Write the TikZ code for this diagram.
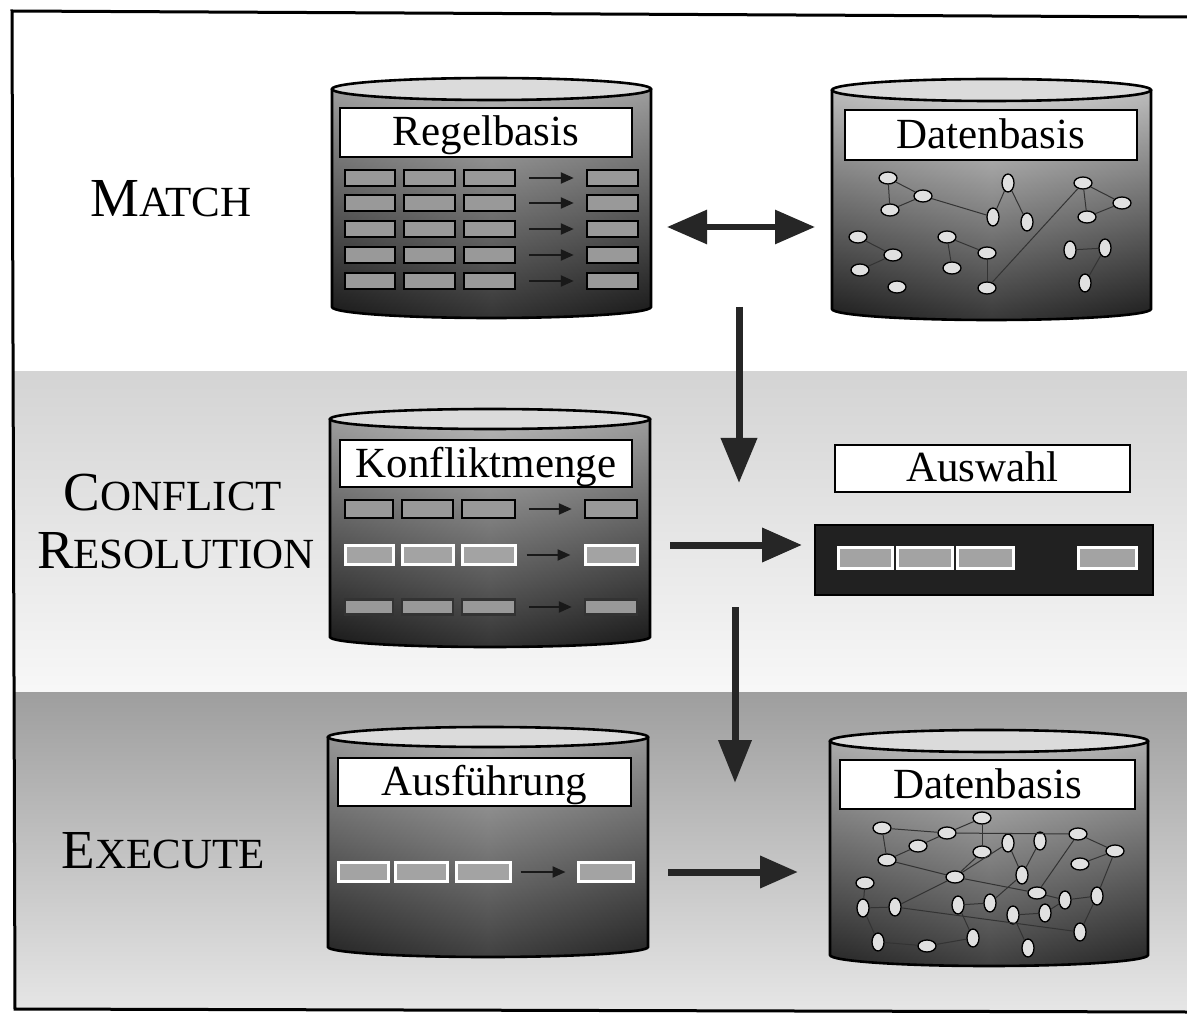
\documentclass[tikz,border=0pt]{standalone}
\usepackage{fontspec}
\setmainfont{Liberation Serif}
\usetikzlibrary{arrows.meta,shapes.geometric}

% small-caps look: large initial, smaller capitals
\newcommand{\StageCaps}[2]{{\fontsize{55}{60}\selectfont #1}{\fontsize{43}{50}\selectfont #2}}

% database drum: #1 x left, #2 x right, #3 y of top rim, #4 y of bottom rim,
% #5 rim half-height, #6 top colour, #7 middle colour, #8 bottom colour
\newcommand{\DrawDrum}[8]{%
  \pgfmathsetmacro\drumrx{(#2-#1)/2}%
  \pgfmathsetmacro\drumcx{(#1+#2)/2}%
  \shade[top color=#6, middle color=#7, bottom color=#8]
    (#1,#3) -- (#1,#4) arc[start angle=180, end angle=360, x radius=\drumrx pt, y radius=#5pt] -- (#2,#3) -- cycle;
  \shade[left color=black, right color=black, middle color=black!40, fill opacity=0.18]
    (#1,#3) -- (#1,#4) arc[start angle=180, end angle=360, x radius=\drumrx pt, y radius=#5pt] -- (#2,#3) -- cycle;
  \draw[drumline]
    (#1,#3) -- (#1,#4) arc[start angle=180, end angle=360, x radius=\drumrx pt, y radius=#5pt] -- (#2,#3);
  \draw[drumline, fill=black!14] (\drumcx,#3) ellipse [x radius=\drumrx pt, y radius=#5pt];
}

\tikzset{
  drumline/.style={draw=black, line width=2.6pt},
  labelbox/.style={draw=black, line width=1.4pt, fill=white, inner sep=0pt,
    font=\fontsize{43}{48}\selectfont, text height=27pt, text depth=0pt},
  stage/.style={inner sep=0pt, anchor=base},
  cell/.style={draw=black, line width=2.4pt, fill=black!40, inner sep=0pt, minimum height=16pt},
  hcell/.style={draw=white, line width=3pt, fill=black!36, inner sep=0pt, minimum height=19pt},
  rowarrow/.style={draw=black!90, line width=2.2pt, -{Triangle[length=13pt,width=11pt]},
    shorten <=13pt, shorten >=12pt},
  bigarrow/.style={draw=black!85, fill=black!85, line width=7pt},
  dbnode/.style={ellipse, draw=black, line width=1.3pt, fill=black!12, inner sep=0pt},
  dbh/.style={dbnode, minimum width=18pt, minimum height=12pt},
  dbv/.style={dbnode, minimum width=12pt, minimum height=18pt},
  dbedge/.style={draw=black!80, line width=1pt},
}

\begin{document}
\begin{tikzpicture}[x=1pt, y=-1pt]
\useasboundingbox (0,0) rectangle (1187,1016);
\fill[white] (0,0) rectangle (1187,1016);

% horizontal bands behind the three phases
\shade[top color=black!17, bottom color=black!3] (14,372) rectangle (1187,692);
\shade[top color=black!38, bottom color=black!10] (14,692) rectangle (1187,1009);

% outer frame
\draw[line width=3pt] (1187,17) -- (12,11) -- (15,1009) -- (1187,1012);

% phase names
\node[stage] (match) at (171,217) {\StageCaps{M}{ATCH}};
\node[stage] (conflict) at (173,510) {\StageCaps{C}{ONFLICT}};
\node[stage] (resolution) at (176,568) {\StageCaps{R}{ESOLUTION}};
\node[stage] (execute) at (163,868) {\StageCaps{E}{XECUTE}};

% ---------------- rule base ----------------
\DrawDrum{332}{651}{89}{307}{11}{black!25}{black!55}{black!88}
\node[labelbox, minimum width=292pt, minimum height=49pt] (regel) at (486,132.5) {Regelbasis};
\foreach \y [count=\i] in {178,203,229,255,281} {
  \node[cell, minimum width=50pt] (ra\i-1) at (370,\y) {};
  \node[cell, minimum width=51pt] (ra\i-2) at (429.5,\y) {};
  \node[cell, minimum width=51pt] (ra\i-3) at (489.5,\y) {};
  \node[cell, minimum width=51pt] (ra\i-5) at (612.5,\y) {};
  \draw[rowarrow] (ra\i-3) -- (ra\i-5);
}

% ---------------- data base (before) ----------------
\DrawDrum{832}{1151}{90}{309}{11}{black!10}{black!45}{black!86}
\node[labelbox, minimum width=292pt, minimum height=50pt] (daten) at (991,135) {Datenbasis};
\node[dbh] (a1) at (888,178) {};
\node[dbh] (a2) at (923,196) {};
\node[dbh] (a3) at (890,210) {};
\node[dbv] (a4) at (1008,183) {};
\node[dbv] (a5) at (993,217) {};
\node[dbv] (a6) at (1027,222) {};
\node[dbh] (a7) at (1083,183) {};
\node[dbh] (a8) at (1122,203) {};
\node[dbh] (a9) at (1087,217) {};
\node[dbh] (a10) at (858,237) {};
\node[dbh] (a11) at (893,255) {};
\node[dbh] (a12) at (860,270) {};
\node[dbh] (a13) at (947,237) {};
\node[dbh] (a14) at (987,253) {};
\node[dbh] (a15) at (952,268) {};
\node[dbh] (a16) at (897,287) {};
\node[dbh] (a17) at (987,288) {};
\node[dbv] (a18) at (1070,250) {};
\node[dbv] (a19) at (1105,248) {};
\node[dbv] (a20) at (1085,283) {};
\foreach \p/\q in {a1/a3,a1/a2,a3/a2,a2/a5,a5/a4,a4/a6,a7/a8,a7/a9,a9/a8,a7/a17,
                   a10/a11,a11/a12,a13/a14,a13/a15,a14/a17,a18/a19,a19/a20}
  \draw[dbedge] (\p) -- (\q);

% ---------------- conflict set ----------------
\DrawDrum{330}{650}{419}{637}{10}{black!25}{black!58}{black!88}
\node[labelbox, minimum width=292pt, minimum height=47pt] (konflikt) at (486,463.5) {Konfliktmenge};
\node[cell, minimum width=48pt, minimum height=18pt] (kb1-1) at (369,509) {};
\node[cell, minimum width=51pt, minimum height=18pt] (kb1-2) at (427.5,509) {};
\node[cell, minimum width=53pt, minimum height=18pt] (kb1-3) at (488.5,509) {};
\node[cell, minimum width=52pt, minimum height=18pt] (kb1-5) at (611,509) {};
\draw[rowarrow] (kb1-3) -- (kb1-5);
\node[hcell, minimum width=48pt] (kb2-1) at (369,555) {};
\node[hcell, minimum width=51pt] (kb2-2) at (427.5,555) {};
\node[hcell, minimum width=53pt] (kb2-3) at (488.5,555) {};
\node[hcell, minimum width=52pt] (kb2-5) at (611,555) {};
\draw[rowarrow, shorten <=10pt, shorten >=13pt] (kb2-3) -- (kb2-5);
\node[cell, draw=black!80, minimum width=48pt, minimum height=15pt] (kb3-1) at (369,607) {};
\node[cell, draw=black!80, minimum width=51pt, minimum height=15pt] (kb3-2) at (427.5,607) {};
\node[cell, draw=black!80, minimum width=53pt, minimum height=15pt] (kb3-3) at (488.5,607) {};
\node[cell, draw=black!80, minimum width=52pt, minimum height=15pt] (kb3-5) at (611,607) {};
\draw[rowarrow] (kb3-3) -- (kb3-5);

% ---------------- selection ----------------
\node[labelbox, minimum width=295pt, minimum height=47pt] (auswahl) at (982.5,468.5) {Auswahl};
\node[draw=black, line width=1.5pt, fill=black!87, inner sep=0pt,
      minimum width=338pt, minimum height=70pt] (selbar) at (984,560) {};
\node[hcell, minimum width=54pt, minimum height=21pt] (s1) at (865,557.5) {};
\node[hcell, minimum width=55pt, minimum height=21pt] (s2) at (924.5,557.5) {};
\node[hcell, minimum width=56pt, minimum height=21pt] (s3) at (985,557.5) {};
\node[hcell, minimum width=58pt, minimum height=21pt] (s5) at (1107,557.5) {};

% ---------------- execution ----------------
\DrawDrum{328}{648}{737}{947}{10}{black!28}{black!55}{black!82}
\node[labelbox, minimum width=293pt, minimum height=48pt] (ausf) at (484.5,782) {Ausführung};
\node[hcell, minimum width=50pt] (ex1) at (363,872) {};
\node[hcell, minimum width=52pt] (ex2) at (421,872) {};
\node[hcell, minimum width=54pt] (ex3) at (483,872) {};
\node[hcell, minimum width=55pt] (ex5) at (605.5,872) {};
\draw[rowarrow, shorten <=9pt, shorten >=11pt] (ex3) -- (ex5);

% ---------------- data base (after) ----------------
\DrawDrum{830}{1148}{741}{955}{11}{black!18}{black!50}{black!82}
\node[labelbox, minimum width=295pt, minimum height=49pt] (daten2) at (987.5,784.5) {Datenbasis};
\node[dbh] (b1) at (882,828) {};
\node[dbh] (b2) at (947,833) {};
\node[dbh] (b3) at (982,818) {};
\node[dbh] (b4) at (918,846) {};
\node[dbh] (b5) at (982,852) {};
\node[dbv] (b6) at (1008,843) {};
\node[dbv] (b7) at (1040,841) {};
\node[dbh] (b8) at (1078,834) {};
\node[dbh] (b9) at (1115,851) {};
\node[dbh] (b10) at (887,860) {};
\node[dbh] (b11) at (1080,864) {};
\node[dbv] (b12) at (1022,875) {};
\node[dbh] (b13) at (955,877) {};
\node[dbh] (b14) at (865,883) {};
\node[dbh] (b15) at (1037,893) {};
\node[dbv] (b16) at (1065,900) {};
\node[dbv] (b17) at (1097,896) {};
\node[dbv] (b18) at (863,908) {};
\node[dbv] (b19) at (895,907) {};
\node[dbv] (b20) at (958,905) {};
\node[dbv] (b21) at (990,903) {};
\node[dbv] (b22) at (1013,915) {};
\node[dbv] (b23) at (1045,913) {};
\node[dbv] (b24) at (878,942) {};
\node[dbh] (b25) at (927,946) {};
\node[dbv] (b26) at (973,938) {};
\node[dbv] (b27) at (1028,948) {};
\node[dbv] (b28) at (1080,932) {};
\foreach \p/\q in {b1/b2,b2/b3,b2/b8,b3/b5,b1/b10,b10/b4,b4/b2,b10/b13,b5/b13,b13/b6,
                   b6/b12,b7/b12,b8/b9,b9/b11,b8/b15,b9/b17,b14/b18,b18/b19,b19/b13,
                   b13/b15,b20/b21,b20/b26,b15/b16,b16/b17,b22/b23,b22/b27,b23/b16,
                   b24/b25,b25/b26,b18/b24,b19/b28,b28/b17,b21/b12}
  \draw[dbedge] (\p) -- (\q);

% ---------------- flow arrows ----------------
\coordinate (m1) at (667,227);
\coordinate (m2) at (815,227);
\draw[bigarrow, line width=6pt, {Triangle[length=40pt,width=33pt]}-{Triangle[length=40pt,width=33pt]}] (m1) -- (m2);
\coordinate (d1a) at (739,307);
\coordinate (d1b) at (739,483);
\draw[bigarrow, -{Triangle[length=45pt,width=35pt]}] (d1a) -- (d1b);
\coordinate (r2a) at (670,545);
\coordinate (r2b) at (802,545);
\draw[bigarrow, -{Triangle[length=40pt,width=33pt]}] (r2a) -- (r2b);
\coordinate (d2a) at (735,607);
\coordinate (d2b) at (735,783);
\draw[bigarrow, -{Triangle[length=43pt,width=32pt]}] (d2a) -- (d2b);
\coordinate (r3a) at (668,872);
\coordinate (r3b) at (798,872);
\draw[bigarrow, -{Triangle[length=38pt,width=31pt]}] (r3a) -- (r3b);
\end{tikzpicture}
\end{document}
